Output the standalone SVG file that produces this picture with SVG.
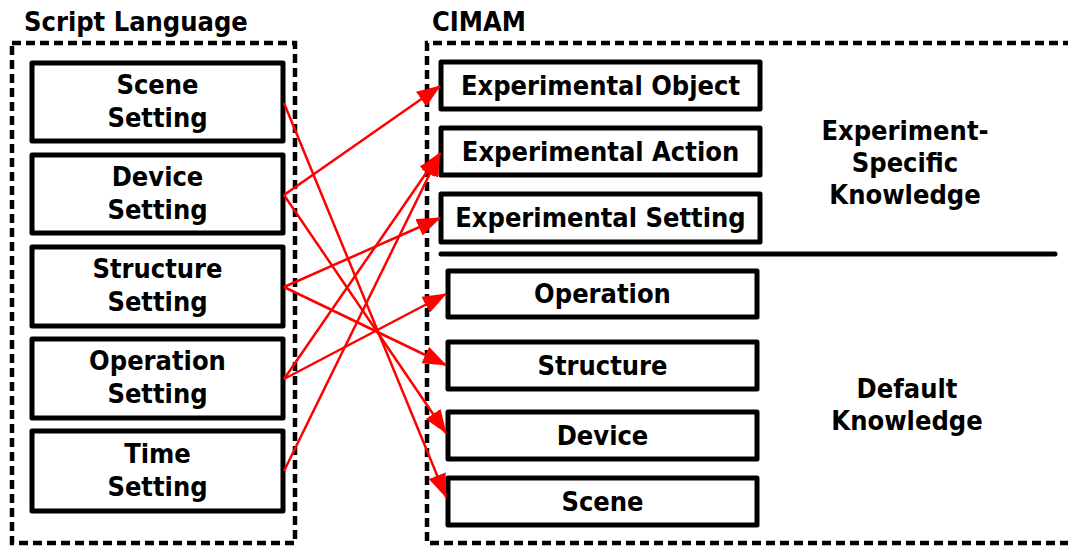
<svg xmlns="http://www.w3.org/2000/svg" width="1068" height="547" viewBox="0 0 1068 547">
  <style>
    text { font-family: "DejaVu Sans", "Liberation Sans", sans-serif; font-stretch: condensed; font-weight: bold; font-size: 27px; fill: #000; }
    .mid { text-anchor: middle; }
    .box { fill: #fff; stroke: #000; stroke-width: 5; stroke-linejoin: round; }
    .frame { fill: none; stroke: #000; stroke-width: 4.5; stroke-dasharray: 9 5; }
    .link { fill: none; stroke: #f00; stroke-width: 2.5; marker-end: url(#head); }
  </style>
  <defs>
    <marker id="head" markerUnits="userSpaceOnUse" markerWidth="24" markerHeight="18" refX="23" refY="9" orient="auto" viewBox="0 0 24 18">
      <path d="M0,0 L24,9 L0,18 Z" fill="#f00"/>
    </marker>
  </defs>
  <rect width="1068" height="547" fill="#fff"/>

  <!-- Script Language panel -->
  <g id="script-language">
    <text x="24" y="31">Script Language</text>
    <rect class="frame" x="12" y="43" width="283" height="500"/>
  </g>
  <g id="scene-setting">
    <rect class="box" x="32" y="63" width="251" height="78"/>
    <text class="mid" x="157.5" y="94">Scene</text>
    <text class="mid" x="157.5" y="127">Setting</text>
  </g>
  <g id="device-setting">
    <rect class="box" x="32" y="155" width="251" height="78"/>
    <text class="mid" x="157.5" y="186">Device</text>
    <text class="mid" x="157.5" y="219">Setting</text>
  </g>
  <g id="structure-setting">
    <rect class="box" x="32" y="247" width="251" height="79"/>
    <text class="mid" x="157.5" y="278">Structure</text>
    <text class="mid" x="157.5" y="311">Setting</text>
  </g>
  <g id="operation-setting">
    <rect class="box" x="32" y="339" width="251" height="79"/>
    <text class="mid" x="157.5" y="370">Operation</text>
    <text class="mid" x="157.5" y="403">Setting</text>
  </g>
  <g id="time-setting">
    <rect class="box" x="32" y="431" width="251" height="80"/>
    <text class="mid" x="157.5" y="463">Time</text>
    <text class="mid" x="157.5" y="496">Setting</text>
  </g>

  <!-- CIMAM panel -->
  <g id="cimam">
    <text x="432" y="31">CIMAM</text>
    <path class="frame" d="M1072,43 H427 V543 H1072"/>
    <line x1="441" y1="254" x2="1055" y2="254" stroke="#000" stroke-width="5" stroke-linecap="round"/>
  </g>
  <g id="experimental-object">
    <rect class="box" x="441" y="62" width="319" height="47"/>
    <text class="mid" x="600.5" y="95">Experimental Object</text>
  </g>
  <g id="experimental-action">
    <rect class="box" x="441" y="128" width="319" height="47"/>
    <text class="mid" x="600.5" y="161">Experimental Action</text>
  </g>
  <g id="experimental-setting">
    <rect class="box" x="441" y="194" width="319" height="48"/>
    <text class="mid" x="600.5" y="227">Experimental Setting</text>
  </g>
  <g id="experiment-specific-knowledge">
    <text class="mid" x="905" y="140">Experiment-</text>
    <text class="mid" x="905" y="172">Specific</text>
    <text class="mid" x="905" y="204">Knowledge</text>
  </g>
  <g id="operation">
    <rect class="box" x="448" y="271" width="309" height="46"/>
    <text class="mid" x="602.5" y="303">Operation</text>
  </g>
  <g id="structure">
    <rect class="box" x="448" y="342" width="309" height="47"/>
    <text class="mid" x="602.5" y="375">Structure</text>
  </g>
  <g id="device">
    <rect class="box" x="448" y="412" width="309" height="47"/>
    <text class="mid" x="602.5" y="445">Device</text>
  </g>
  <g id="scene">
    <rect class="box" x="448" y="478" width="309" height="47"/>
    <text class="mid" x="602.5" y="511">Scene</text>
  </g>
  <g id="default-knowledge">
    <text class="mid" x="907" y="398">Default</text>
    <text class="mid" x="907" y="430">Knowledge</text>
  </g>

  <!-- mappings from script settings to CIMAM knowledge -->
  <g id="connectors">
    <line class="link" x1="284" y1="103" x2="446" y2="497"/>
    <line class="link" x1="284" y1="195" x2="446" y2="433"/>
    <line class="link" x1="284" y1="195" x2="440" y2="86"/>
    <line class="link" x1="284" y1="287" x2="440" y2="218"/>
    <line class="link" x1="284" y1="287" x2="446" y2="365"/>
    <line class="link" x1="284" y1="379" x2="446" y2="294"/>
    <line class="link" x1="284" y1="379" x2="440" y2="153"/>
    <line class="link" x1="284" y1="471" x2="440" y2="153"/>
  </g>
</svg>
